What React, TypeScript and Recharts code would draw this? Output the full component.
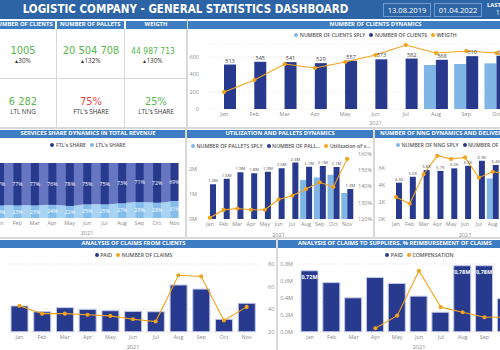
import { Area, Bar, CartesianGrid, ComposedChart, LabelList, Line, XAxis, YAxis } from "recharts";

const months = ["Jan", "Feb", "Mar", "Apr", "May", "Jun", "Jul", "Aug", "Sep", "Oct", "Nov"];

// number of clients dynamics
const clients = [513, 545, 541, 529, 557, 573, 582, 568, 610, 615, 598];
const clientsSply = [null, null, null, null, null, null, null, 508, 519, 527, 530];
const weightM = [1.57, 2.68, 4.15, 3.78, 4.34, 4.98, 5.91, 5.17, 5.35, 5.17, 3.9];

// services share
const ftlShare = [77, 77, 77, 76, 78, 75, 75, 73, 71, 72, 69];
const ltlShare = [23, 23, 23, 24, 22, 25, 25, 27, 29, 28, 31];

// pallets + utilization
const palletsM = [1.39, 1.61, 1.87, 1.83, 1.89, 2.03, 2.26, 2.09, 2.12, 2.08, 1.2];
const palletsSplyM = [null, null, null, null, null, null, null, 1.56, 1.66, 1.77, 1.04];
const utilization = [120.8, 125.6, 126.5, 125.7, 125.7, 132.0, 134.3, 138.5, 142.6, 139.7, 157.0];

// NNG
const nngK = [4.3, 5.0, 5.8, 5.7, 6.0, 6.3, 6.9, 6.4, 6.6, 6.5, 3.9];
const nngSplyK = [null, null, null, null, null, null, null, 4.8, 5.0, 5.2, 4.6];
const deliveries = [2.6, 1.8, 5.3, 7.5, 7.1, 7.3, 4.9, 5.6, 5.4, 5.2, 6.0];

// claims
const clientPaid = [38, 29.5, 35.5, 33, 31, 30, 29.5, 69, 63, 18.3, 42];
const clientClaims = [43, 36, 36, 35, 34, 31, 29, 70, 69, 30, 42];
const supplierPaidM = [0.72, 0.58, 0.4, 0.64, 0.57, 0.42, 0.23, 0.78, 0.78, 0.39, 0.45];
const compensation = [null, null, null, 4, 19, 72, 29, 23, 17, 17, 15];

const NAVY = "#283a8e";
const SKY = "#7fb6e6";
const ORANGE = "#f5a31a";
const STRIP = "#3f7dc3";
const AXIS = "#8a8a8a";
const FONT = "'Open Sans', 'Noto Sans', sans-serif";
const NUMFONT = "'DejaVu Sans Condensed', 'DejaVu Sans', sans-serif";

const tick = { fontSize: 5.5, fill: AXIS };
const yearLabel = { value: "2021", position: "insideBottom" as const, offset: 1, fontSize: 5.5, fill: AXIS };
const dot = { r: 1.5, fill: ORANGE, stroke: ORANGE };

const clientsData = months.map((m, i) => ({ m, clients: clients[i], sply: clientsSply[i], weight: weightM[i] }));
const shareData = months.map((m, i) => ({ m, ftl: ftlShare[i], ltl: ltlShare[i] }));
const palletsData = months.map((m, i) => ({ m, pallets: palletsM[i], sply: palletsSplyM[i], util: utilization[i] }));
const nngData = months.map((m, i) => ({ m, nng: nngK[i], sply: nngSplyK[i], del: deliveries[i] }));
const clientClaimsData = months.map((m, i) => ({ m, paid: clientPaid[i], claims: clientClaims[i] }));
const supplierData = months.map((m, i) => ({ m, paid: supplierPaidM[i], comp: compensation[i] }));

const abs = (left: number, top: number, width: number, height: number) =>
  ({ position: "absolute", left, top, width, height } as const);

function Panel({ x, y, w, h }: { x: number; y: number; w: number; h: number }) {
  return <div style={{ ...abs(x, y, w, h), background: "#fff" }} />;
}

function Strip({ x, y, w, title, pad }: { x: number; y: number; w: number; title: string; pad?: number }) {
  return (
    <div
      style={{
        ...abs(x, y, w, 7.5),
        background: STRIP,
        color: "#fff",
        fontSize: 5.8,
        fontWeight: 700,
        lineHeight: "7.5px",
        textAlign: pad == null ? "center" : "left",
        paddingLeft: pad ?? 0,
        boxSizing: "border-box",
        whiteSpace: "nowrap",
        overflow: "hidden",
      }}
    >
      {title}
    </div>
  );
}

function KeyRow({ x, y, w, items, left }: { x: number; y: number; w: number; items: [string, string][]; left?: boolean }) {
  return (
    <div
      style={{
        ...abs(x, y, w, 7),
        display: "flex",
        justifyContent: left ? "flex-start" : "center",
        alignItems: "center",
        gap: 4,
        fontSize: 5.2,
        fontWeight: 600,
        color: "#555",
        whiteSpace: "nowrap",
      }}
    >
      {items.map(([label, color]) => (
        <span key={label} style={{ display: "flex", alignItems: "center" }}>
          <span style={{ width: 4, height: 4, borderRadius: 2, background: color, marginRight: 1.5 }} />
          {label}
        </span>
      ))}
    </div>
  );
}

function Kpi({ cx, y, value, sub, color, size }: { cx: number; y: number; value: string; sub: string; color: string; size: number }) {
  return (
    <div style={{ ...abs(cx - 40, y, 80, 30), textAlign: "center" }}>
      <div style={{ fontFamily: NUMFONT, fontSize: size, color, lineHeight: "12px" }}>{value}</div>
      <div style={{ fontSize: 6.3, color: "#333", lineHeight: "8px" }}>{sub}</div>
    </div>
  );
}

function Header() {
  return (
    <div style={{ ...abs(-9, 0, 600, 19), background: "#2d64a5" }}>
      <div
        style={{
          ...abs(0, 1.5, 389, 14),
          textAlign: "center",
          fontFamily: NUMFONT,
          fontWeight: 700,
          fontSize: 11.5,
          color: "#fff",
          lineHeight: "14px",
        }}
      >
        LOGISTIC COMPANY - GENERAL STATISTICS DASHBOARD
      </div>
      {[
        ["13.08.2019", 392],
        ["01.04.2022", 443],
      ].map(([t, x]) => (
        <div
          key={t}
          style={{
            ...abs(x as number, 3, 48, 14),
            border: "1px solid #6d9bd3",
            boxSizing: "border-box",
            color: "#fff",
            fontSize: 7.6,
            textAlign: "center",
            lineHeight: "12px",
          }}
        >
          {t}
        </div>
      ))}
      <div style={{ ...abs(496, 1.5, 80, 7), color: "#fff", fontSize: 5.8, fontWeight: 700, lineHeight: "7px", whiteSpace: "nowrap" }}>
        LAST UPDATE
      </div>
      <div style={{ ...abs(505, 8.5, 80, 7), color: "#fff", fontSize: 6.3, lineHeight: "7px", whiteSpace: "nowrap" }}>
        11.11.2021
      </div>
    </div>
  );
}

function KpiPanel() {
  return (
    <>
      <Strip x={-9} y={21} w={63.5} title="NUMBER OF CLIENTS" />
      <Strip x={57} y={21} w={66.5} title="NUMBER OF PALLETS" />
      <Strip x={125.5} y={21} w={61} title="WEIGTH" />
      <div style={{ ...abs(56, 29, 1, 98), background: "#d8d8d8" }} />
      <div style={{ ...abs(124.3, 29, 1, 98), background: "#d8d8d8" }} />
      <div style={{ ...abs(-9, 78, 195, 1), background: "#d8d8d8" }} />
      <Kpi cx={23} y={45} value="1005" sub="▴30%" color="#55b84c" size={11} />
      <Kpi cx={91} y={45} value="20 504 708" sub="▴132%" color="#55b84c" size={11} />
      <Kpi cx={153} y={45} value="44 987 713" sub="▴130%" color="#55b84c" size={8.5} />
      <Kpi cx={23} y={95.5} value="6 282" sub="LTL NNG" color="#55b84c" size={11} />
      <Kpi cx={91} y={95.5} value="75%" sub="FTL's SHARE" color="#f04646" size={11} />
      <Kpi cx={156} y={95.5} value="25%" sub="LTL's SHARE" color="#55b84c" size={11} />
    </>
  );
}

function ClientsChart() {
  return (
    <div style={abs(188, 40, 375, 86)}>
      <ComposedChart width={375} height={86} data={clientsData} margin={{ top: 4, right: 21, bottom: 0, left: 0 }} barGap={0}>
        <CartesianGrid yAxisId="l" vertical={false} stroke="#e6e6e6" strokeDasharray="1 2" />
        <XAxis dataKey="m" interval={0} tickLine={false} axisLine={false} tickSize={0} tickMargin={3} height={17} tick={tick} label={yearLabel} />
        <YAxis yAxisId="l" width={21} domain={[0, 750]} ticks={[0, 200, 400, 600]} tickLine={false} axisLine={false} tickSize={0} tickMargin={10} tick={tick} />
        <YAxis yAxisId="r" orientation="right" hide domain={[0, 6]} />
        <Bar yAxisId="l" dataKey="sply" fill={SKY} barSize={12} isAnimationActive={false} />
        <Bar yAxisId="l" dataKey="clients" fill={NAVY} barSize={12} isAnimationActive={false}>
          <LabelList dataKey="clients" position="top" offset={2} fontSize={5.5} fill="#444" />
        </Bar>
        <Line yAxisId="r" dataKey="weight" stroke={ORANGE} strokeWidth={1.1} dot={dot} isAnimationActive={false} />
      </ComposedChart>
    </div>
  );
}

function ShareChart() {
  return (
    <div style={abs(-9, 160, 192, 76)}>
      <ComposedChart width={192} height={76} data={shareData} margin={{ top: 3, right: 0, bottom: 0, left: 0 }}>
        <XAxis dataKey="m" interval={0} tickLine={false} axisLine={false} tickSize={0} tickMargin={3} height={18} tick={tick} label={yearLabel} />
        <YAxis hide domain={[0, 100]} />
        <Area dataKey="ltl" stackId="a" type="monotone" fill="#a9d3f3" fillOpacity={1} stroke="none" isAnimationActive={false} />
        <Area dataKey="ftl" stackId="a" type="monotone" fill="#6776c0" fillOpacity={1} stroke="none" isAnimationActive={false} />
        <Bar dataKey="ltl" stackId="b" fill="#84bdea" barSize={8} isAnimationActive={false}>
          <LabelList dataKey="ltl" position="center" fontSize={5.3} fill="#fff" formatter={(v: number) => `${v}%`} />
        </Bar>
        <Bar dataKey="ftl" stackId="b" fill={NAVY} barSize={8} isAnimationActive={false}>
          <LabelList dataKey="ftl" position="center" fontSize={5.3} fill="#fff" formatter={(v: number) => `${v}%`} />
        </Bar>
      </ComposedChart>
    </div>
  );
}

function PalletsChart() {
  return (
    <div style={abs(185, 150, 190, 88)}>
      <ComposedChart width={190} height={88} data={palletsData} margin={{ top: 4, right: 0, bottom: 0, left: 0 }} barGap={0}>
        <XAxis dataKey="m" interval={0} tickLine={false} axisLine={false} tickSize={0} tickMargin={3} height={19} tick={tick} label={yearLabel} />
        <YAxis yAxisId="l" width={18} domain={[0, 2.6]} ticks={[0, 1, 2]} tickFormatter={(v) => `${v}M`} tickLine={false} axisLine={false} tickSize={0} tickMargin={6} tick={tick} />
        <YAxis yAxisId="r" orientation="right" width={21} domain={[120, 160]} ticks={[120, 130, 140, 150, 160]} tickFormatter={(v) => `${v}%`} tickLine={false} axisLine={false} tickSize={0} tickMargin={4} tick={tick} />
        <Bar yAxisId="l" dataKey="sply" fill={SKY} barSize={6} isAnimationActive={false} />
        <Bar yAxisId="l" dataKey="pallets" fill={NAVY} barSize={6} isAnimationActive={false}>
          <LabelList dataKey="pallets" position="top" offset={2} fontSize={4.3} fill="#555" formatter={(v: number) => `${v.toFixed(1)}M`} />
        </Bar>
        <Line yAxisId="r" dataKey="util" stroke={ORANGE} strokeWidth={1.1} dot={dot} isAnimationActive={false} />
      </ComposedChart>
    </div>
  );
}

function NngChart() {
  return (
    <div style={abs(372, 150, 190, 88)}>
      <ComposedChart width={190} height={88} data={nngData} margin={{ top: 4, right: 21, bottom: 0, left: 0 }} barGap={0}>
        <XAxis dataKey="m" interval={0} tickLine={false} axisLine={false} tickSize={0} tickMargin={3} height={19} tick={tick} label={yearLabel} />
        <YAxis yAxisId="l" width={17} domain={[0, 7.7]} ticks={[0, 2, 4, 6]} tickFormatter={(v) => `${v}K`} tickLine={false} axisLine={false} tickSize={0} tickMargin={4} tick={tick} />
        <YAxis yAxisId="r" orientation="right" hide domain={[0, 7.7]} />
        <Bar yAxisId="l" dataKey="sply" fill={SKY} barSize={6} isAnimationActive={false} />
        <Bar yAxisId="l" dataKey="nng" fill={NAVY} barSize={6} isAnimationActive={false}>
          <LabelList dataKey="nng" position="top" offset={2} fontSize={4.3} fill="#555" formatter={(v: number) => `${v.toFixed(1)}K`} />
        </Bar>
        <Line yAxisId="r" dataKey="del" stroke={ORANGE} strokeWidth={1.1} dot={dot} isAnimationActive={false} />
      </ComposedChart>
    </div>
  );
}

function ClaimsClientsChart() {
  return (
    <div style={abs(0, 260, 276, 90)}>
      <ComposedChart width={276} height={90} data={clientClaimsData} margin={{ top: 4, right: 0, bottom: 0, left: 8 }}>
        <CartesianGrid yAxisId="r" vertical={false} stroke="#dcdcdc" strokeDasharray="1 2" />
        <XAxis dataKey="m" interval={0} tickLine={false} axisLine={false} tickSize={0} tickMargin={3} height={18.3} tick={tick} label={yearLabel} />
        <YAxis yAxisId="l" hide domain={[0, 100]} />
        <YAxis yAxisId="r" orientation="right" width={18} domain={[20, 80]} ticks={[20, 40, 60, 80]} tickLine={false} axisLine={false} tickSize={0} tickMargin={10} tick={tick} />
        <Bar yAxisId="l" dataKey="paid" fill={NAVY} stroke="#c3c9e8" strokeWidth={1} barSize={17} isAnimationActive={false} />
        <Line yAxisId="r" dataKey="claims" stroke={ORANGE} strokeWidth={1.1} dot={dot} isAnimationActive={false} />
      </ComposedChart>
    </div>
  );
}

function ClaimsSuppliersChart() {
  return (
    <div style={abs(278, 260, 283, 90)}>
      <ComposedChart width={283} height={90} data={supplierData} margin={{ top: 4, right: 22, bottom: 0, left: 0 }}>
        <CartesianGrid yAxisId="l" vertical={false} stroke="#e2e2e2" strokeDasharray="1 2" />
        <XAxis dataKey="m" interval={0} tickLine={false} axisLine={false} tickSize={0} tickMargin={3} height={18.3} tick={tick} label={yearLabel} />
        <YAxis yAxisId="l" width={21} domain={[0, 0.8]} ticks={[0, 0.2, 0.4, 0.6, 0.8]} tickFormatter={(v) => `${v.toFixed(1).replace(".", ",")}M`} tickLine={false} axisLine={false} tickSize={0} tickMargin={6} tick={tick} />
        <YAxis yAxisId="r" orientation="right" hide domain={[0, 80]} />
        <Bar yAxisId="l" dataKey="paid" fill={NAVY} stroke="#c3c9e8" strokeWidth={1} barSize={17} isAnimationActive={false}>
          <LabelList
            dataKey="paid"
            position="insideTop"
            offset={4}
            fontSize={5.5}
            fontWeight={700}
            fill="#fff"
            formatter={(v: number) => (v >= 0.7 ? `${v.toFixed(2).replace(".", ",")}M` : "")}
          />
        </Bar>
        <Line yAxisId="r" dataKey="comp" stroke={ORANGE} strokeWidth={1.1} dot={dot} isAnimationActive={false} />
      </ComposedChart>
    </div>
  );
}

export default function App() {
  return (
    <div style={{ ...abs(0, 0, 500, 350), overflow: "hidden", background: "#d9d9d9", fontFamily: FONT }}>
      <Panel x={-9} y={19} w={195} h={108} />
      <Panel x={188} y={19} w={380} h={108} />
      <Panel x={-9} y={129} w={194} h={108} />
      <Panel x={187} y={129} w={186} h={108} />
      <Panel x={375} y={129} w={200} h={108} />
      <Panel x={-9} y={239} w={285} h={111} />
      <Panel x={278} y={239} w={290} h={111} />
      <Header />
      <KpiPanel />

      <Strip x={188} y={21} w={375} title="NUMBER OF CLIENTS DYNAMICS" />
      <KeyRow x={188} y={31.5} w={375} items={[["NUMBER OF CLIENTS SPLY", SKY], ["NUMBER OF CLIENTS", NAVY], ["WEIGTH", ORANGE]]} />
      <ClientsChart />

      <Strip x={-9} y={130} w={194} title="SERVICES SHARE DYNAMICS IN TOTAL REVENUE" />
      <KeyRow x={-9} y={141.5} w={194} items={[["FTL's SHARE", NAVY], ["LTL's SHARE", SKY]]} />
      <ShareChart />

      <Strip x={187} y={130} w={186} title="UTILIZATION AND PALLETS DYNAMICS" />
      <KeyRow x={191} y={142} w={182} left items={[["NUMBER OF  PALLETS SPLY", SKY], ["NUMBER OF  PALL...", NAVY], ["Utilization of v...", ORANGE]]} />
      <PalletsChart />

      <Strip x={375} y={130} w={200} pad={5} title="NUMBER OF NNG DYNAMICS AND DELIVERIES" />
      <KeyRow x={396} y={141.5} w={180} left items={[["NUMBER OF NNG SPLY", SKY], ["NUMBER OF NNG", NAVY]]} />
      <NngChart />

      <Strip x={-9} y={240} w={285} title="ANALYSIS OF CLAIMS FROM CLIENTS" />
      <KeyRow x={-9} y={251.5} w={285} items={[["PAID", NAVY], ["NUMBER OF CLAIMS", ORANGE]]} />
      <ClaimsClientsChart />

      <Strip x={278} y={240} w={290} pad={20} title="ANALYSIS OF CLAIMS TO SUPPLIERS, % REIMBURSEMENT OF CLAIMS" />
      <KeyRow x={278} y={251.5} w={283} items={[["PAID", NAVY], ["COMPENSATION", ORANGE]]} />
      <ClaimsSuppliersChart />
    </div>
  );
}
